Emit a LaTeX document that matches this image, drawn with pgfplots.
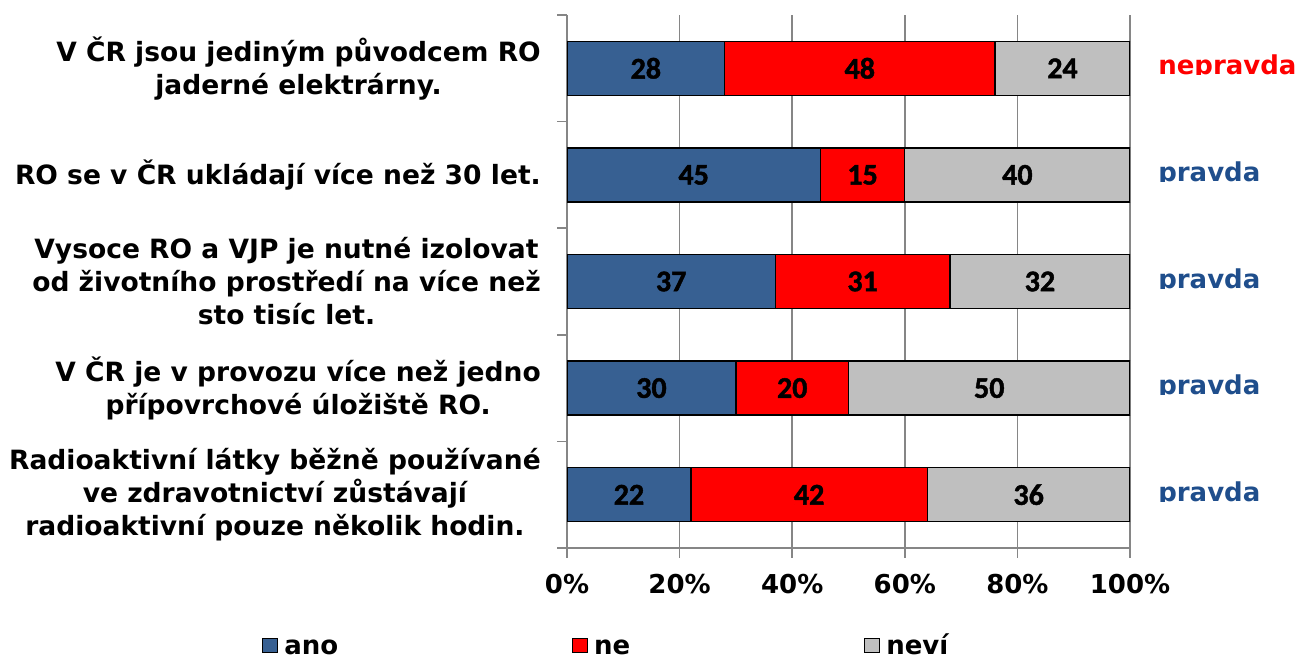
\documentclass[border=0pt]{standalone}
\usepackage{pgfplots}
\pgfplotsset{compat=1.18}
\usepackage{fontspec}
\setmainfont{DejaVu Sans}
\newfontfamily\carlitob{Carlito}[UprightFont={* Bold}, FakeBold=1.5]
\definecolor{anoblue}{HTML}{376092}
\definecolor{nered}{HTML}{FF0000}
\definecolor{nevigray}{HTML}{BFBFBF}
\definecolor{gridgray}{HTML}{868686}
\definecolor{pravdablue}{HTML}{1F4E8C}

\begin{document}
\begin{tikzpicture}[x=0.75pt,y=0.75pt]
\useasboundingbox (0,0) rectangle (1298,659);
\begin{axis}[
  at={(425.25pt,83.25pt)}, anchor=south west,
  scale only axis, width=422.25pt, height=399.75pt,
  xbar stacked, bar width=40.5pt,
  xmin=0, xmax=100, ymin=-0.5, ymax=4.5,
  axis x line*=bottom, axis y line*=left,
  axis line style={gridgray, line width=1.1pt, -},
  xtick={0,20,...,100}, xticklabels={0\%,20\%,40\%,60\%,80\%,100\%},
  xmajorgrids, grid style={gridgray, line width=1.1pt},
  ytick={-0.5,0.5,...,4.5}, yticklabels={},
  major tick length=7.5pt, tick align=outside,
  tick style={gridgray, line width=1.1pt},
  extra y ticks={0,1,2,3,4},
  extra y tick labels={
    {Radioaktivní látky běžně používané\\ve zdravotnictví zůstávají\\radioaktivní pouze několik hodin.},
    {V ČR je v provozu více než jedno\\přípovrchové úložiště RO.},
    {Vysoce RO a VJP je nutné izolovat\\od životního prostředí na více než\\sto tisíc let.},
    {RO se v ČR ukládají více než 30 let.},
    {V ČR jsou jediným původcem RO\\jaderné elektrárny.}},
  extra y tick style={major tick length=0pt},
  yticklabel style={font=\bfseries\fontsize{19.9}{24.75}\selectfont, align=center, anchor=east, inner sep=0pt, xshift=-19.5pt},
  xticklabel style={font=\bfseries\fontsize{19.5}{22}\selectfont, inner sep=0pt, yshift=-12pt},
  legend columns=3,
  legend style={draw=none, fill=none, at={(-0.5417,-0.183)}, anchor=west, inner sep=0pt,
    font=\bfseries\fontsize{19.5}{22}\selectfont,
    /tikz/every even column/.append style={column sep=173.5pt},
    /tikz/every odd column/.append style={column sep=3pt}},
  legend image code/.code={\draw[#1,draw=black,line width=0.7pt] (0pt,-5.4pt) rectangle (10.8pt,5.4pt);},
]
\addplot[fill=anoblue, draw=black, line width=1pt] coordinates {(22,0) (30,1) (37,2) (45,3) (28,4)};
\addplot[fill=nered, draw=black, line width=1pt] coordinates {(42,0) (20,1) (31,2) (15,3) (48,4)};
\addplot[fill=nevigray, draw=black, line width=1pt] coordinates {(36,0) (50,1) (32,2) (40,3) (24,4)};
\legend{ano\vphantom{í},ne\vphantom{í},neví}
\end{axis}
\begin{axis}[
  at={(425.25pt,83.25pt)}, anchor=south west,
  scale only axis, width=422.25pt, height=399.75pt,
  xmin=0, xmax=100, ymin=-0.5, ymax=4.5, hide axis,
]
\addplot[draw=none, mark=none, nodes near coords, point meta=explicit symbolic,
  nodes near coords align=center,
  every node near coord/.append style={font=\carlitob\fontsize{22.5}{27}\selectfont, text=black, anchor=center}]
  coordinates {
  (11,0)[22] (43,0)[42] (82,0)[36]
  (15,1)[30] (40,1)[20] (75,1)[50]
  (18.5,2)[37] (52.5,2)[31] (84,2)[32]
  (22.5,3)[45] (52.5,3)[15] (80,3)[40]
  (14,4)[28] (52,4)[48] (88,4)[24]};
\end{axis}
\foreach \b/\t/\c in {75/nepravda/nered, 182/pravda/pravdablue, 289/pravda/pravdablue, 395/pravda/pravdablue, 502/pravda/pravdablue}{
  \begin{scope}
    \clip (1140,659-\b) rectangle (1298,659-\b+40);
    \node[anchor=base west, inner sep=0pt, text=\c, font=\bfseries\fontsize{19.5}{23}\selectfont] at (1158,659-\b) {\t};
  \end{scope}
}
\end{tikzpicture}
\end{document}
